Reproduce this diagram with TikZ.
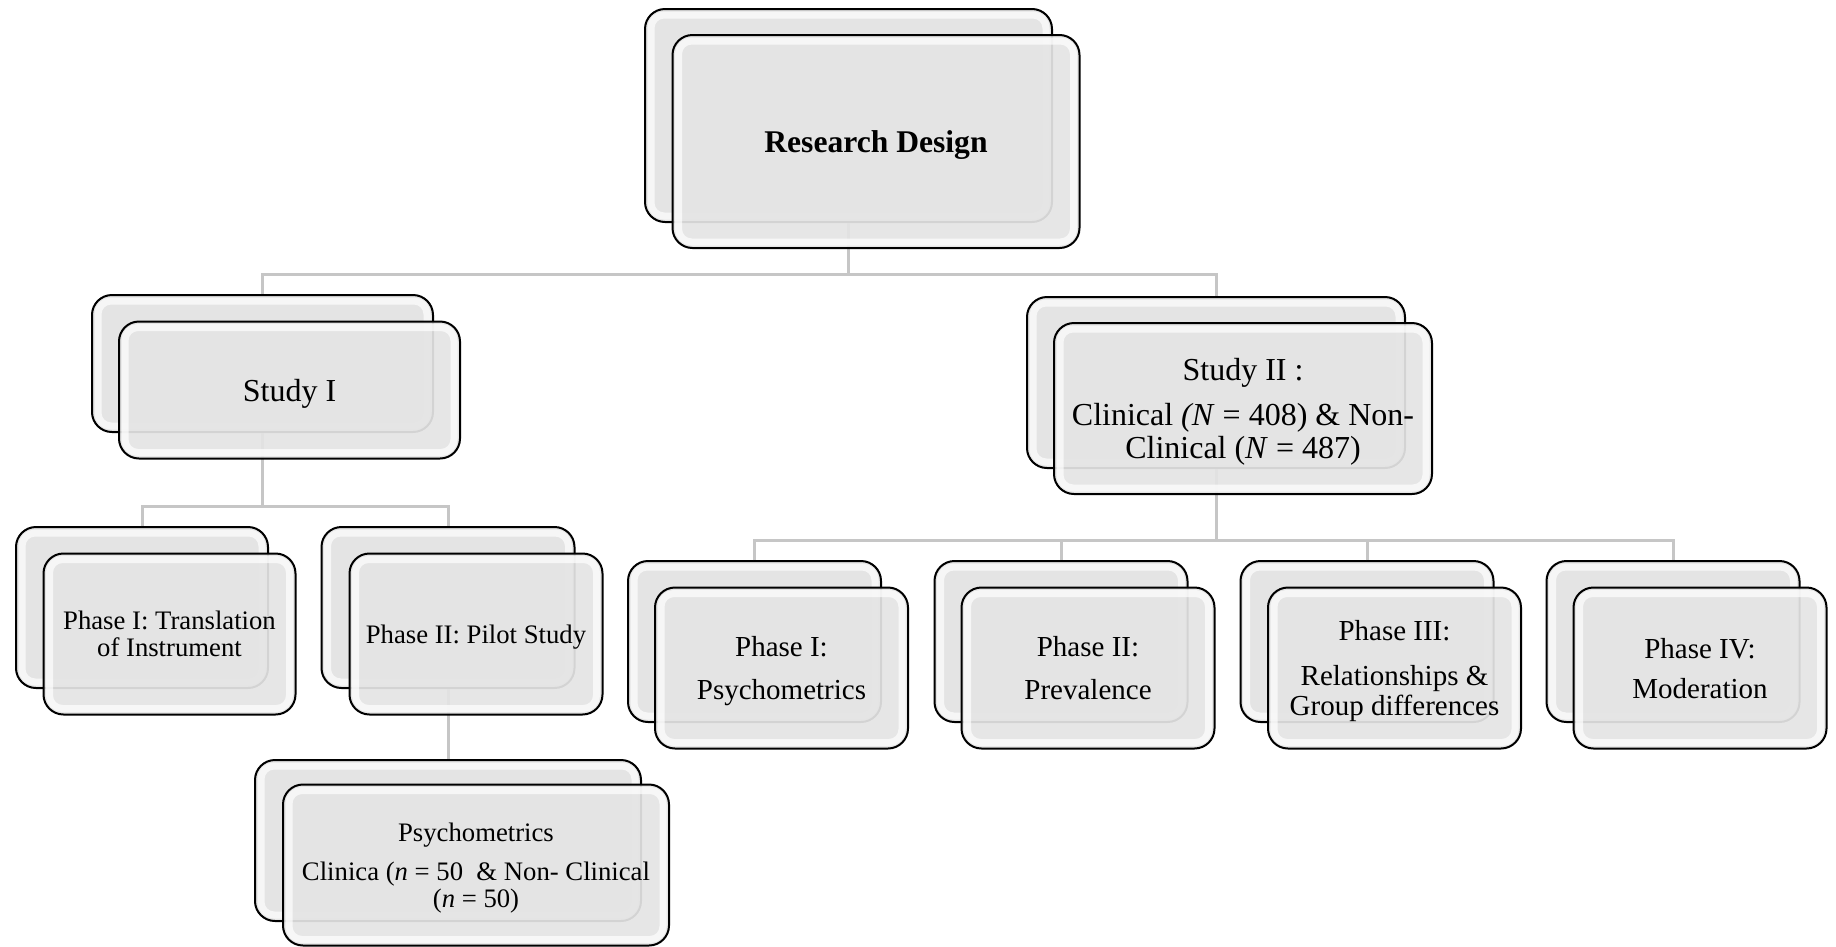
\documentclass[tikz,border=0pt]{standalone}
\usepackage{fontspec}
\setmainfont{Liberation Serif}
\definecolor{boxfill}{RGB}{228,228,228}
\definecolor{connc}{RGB}{198,198,198}
\tikzset{
  gloss/.style={path picture={
     \draw[white, line width=7pt, opacity=0.7, rounded corners=13pt]
       ([shift={(6pt,-6pt)}]path picture bounding box.north west) rectangle
       ([shift={(-6pt,6pt)}]path picture bounding box.south east);
  }},
  backbox/.style={draw=black, line width=2pt, fill=boxfill, rounded corners=20pt,
     inner sep=0pt, gloss},
  frontbox/.style={draw=black, line width=2pt, fill=boxfill, fill opacity=0.93,
     text opacity=1, rounded corners=20pt, inner sep=0pt, align=center, gloss,
     text depth=0pt},
  conn/.style={draw=connc, line width=3pt},
  ftop/.style={font=\fontsize{31.6}{33}\selectfont\bfseries},
  fstudy/.style={font=\fontsize{32}{33}\selectfont},
  fphase/.style={font=\fontsize{29}{30}\selectfont},
  fsmall/.style={font=\fontsize{26.7}{27}\selectfont},
}
\begin{document}
\begin{tikzpicture}[x=1pt,y=-1pt]
\useasboundingbox (0,0) rectangle (1836,946);
% back boxes
\node[backbox, minimum width=407pt, minimum height=213pt] (rdB) at (848.5,115.5) {};
\node[backbox, minimum width=341pt, minimum height=137pt] (s1B) at (262.5,363.5) {};
\node[backbox, minimum width=378pt, minimum height=171pt] (s2B) at (1216,382.5) {};
\node[backbox, minimum width=252pt, minimum height=161pt] (trB) at (142,607.5) {};
\node[backbox, minimum width=253pt, minimum height=161pt] (piB) at (448,607.5) {};
\node[backbox, minimum width=386pt, minimum height=161pt] (psB) at (448,840.5) {};
\node[backbox, minimum width=253pt, minimum height=161pt] (p1B) at (754.5,641.5) {};
\node[backbox, minimum width=253pt, minimum height=161pt] (p2B) at (1061,641.5) {};
\node[backbox, minimum width=253pt, minimum height=161pt] (p3B) at (1367,641.5) {};
\node[backbox, minimum width=253pt, minimum height=161pt] (p4B) at (1673,641.5) {};
% connectors
\coordinate (j1) at (849,274);
\coordinate (j2) at (262,506);
\coordinate (j3) at (1216,540);
\draw[conn] (rdB.south) -- (rdB.south |- j1);
\draw[conn] (s1B.north) |- (rdB.south |- j1) -| (s2B.north);
\draw[conn] (s1B.south) -- (s1B.south |- j2);
\draw[conn] (trB.north) |- (s1B.south |- j2) -| (piB.north);
\draw[conn] (piB.south) -- (psB.north);
\draw[conn] (s2B.south) -- (s2B.south |- j3);
\draw[conn] (p1B.north) |- (s2B.south |- j3) -| (p4B.north);
\draw[conn] (p2B.north) -- (p2B.north |- j3);
\draw[conn] (p3B.north) -- (p3B.north |- j3);
% front boxes
\node[frontbox, ftop, minimum width=407pt, minimum height=213pt] (rd) at (876,141.5) {Research Design};
\node[frontbox, fstudy, minimum width=341pt, minimum height=137pt] (s1) at (289.5,390) {Study I};
\node[frontbox, fstudy, minimum width=378pt, minimum height=171pt] (s2) at (1243,408.5)
  {Study II :\\[12pt]Clinical \textit{(N} = 408) \& Non-\\Clinical (\textit{N} = 487)};
\node[frontbox, fsmall, minimum width=252pt, minimum height=161pt] (tr) at (169.5,634)
  {Phase I: Translation\\of Instrument};
\node[frontbox, fsmall, minimum width=253pt, minimum height=161pt] (pi) at (476,634)
  {Phase II: Pilot Study};
\node[frontbox, fsmall, minimum width=386pt, minimum height=161pt] (ps) at (476,865)
  {Psychometrics\\[12pt]Clinica (\textit{n} = 50\ \ \& Non- Clinical\\(\textit{n} = 50)};
\node[frontbox, fphase, minimum width=253pt, minimum height=161pt] (p1) at (781.5,668)
  {Phase I:\\[13pt]Psychometrics};
\node[frontbox, fphase, minimum width=253pt, minimum height=161pt] (p2) at (1088,668)
  {Phase II:\\[13pt]Prevalence};
\node[frontbox, fphase, minimum width=253pt, minimum height=161pt] (p3) at (1394.5,668)
  {Phase III:\\[15pt]Relationships \&\\Group differences};
\node[frontbox, fphase, minimum width=253pt, minimum height=161pt] (p4) at (1700,668)
  {Phase IV:\\[10pt]Moderation};
\end{tikzpicture}
\end{document}
